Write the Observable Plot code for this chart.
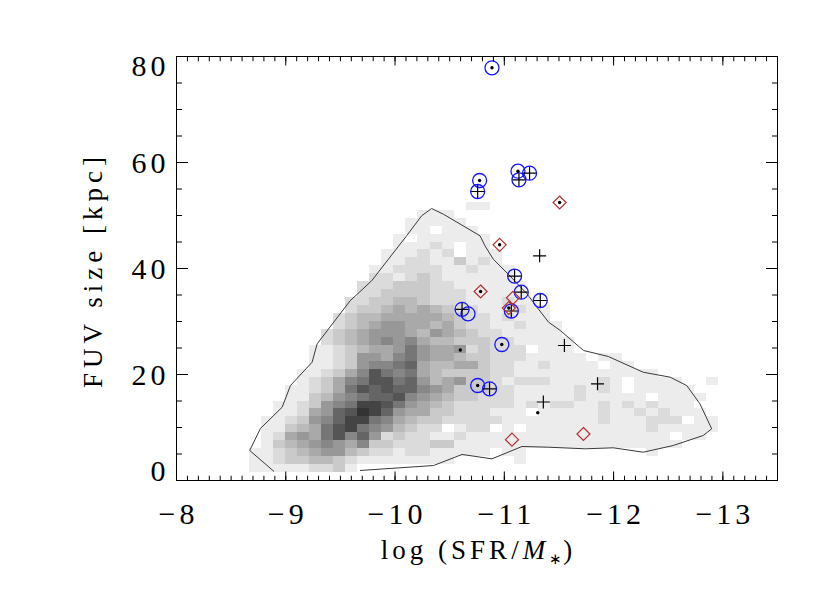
<!DOCTYPE html>
<html>
<head>
<meta charset="utf-8">
<script src="https://cdn.jsdelivr.net/npm/d3@7"></script>
<script src="https://cdn.jsdelivr.net/npm/@observablehq/plot@0.6"></script>
<style>
  html, body { margin: 0; padding: 0; background: #fff; }
</style>
</head>
<body>
<div id="chart"></div>
<script>
// ---------- DATA ----------
// 2-D histogram of the comparison sample: grey level per cell (hex digit, '.' = empty)
// rows listed from top (highest FUV size) to bottom; columns from log sSFR = -8.67 towards -13
const xBinStart = -8.67, xBinWidth = 0.11;
const yBinStart = 1.5, yBinHeight = 1.5;
const densityRows = [
  "..................11...................",
  "..............111......................",
  ".............11111.....................",
  ".............11.111....................",
  "............1.111111...................",
  "............11121.11...................",
  "...........111212.111..................",
  "...........1122113121..................",
  "..........112222112111.................",
  "..........221232111111.................",
  ".........22233322111111................",
  ".........22333322211111................",
  "........2233443222111211...............",
  "........23345454322111211..............",
  ".......234455555432212111..............",
  ".......2345665545322112111.............",
  "......23456665465432211111.............",
  "......234567675443332211111............",
  ".....112345568655623222.111............",
  ".....11236657865543322211111.11........",
  ".....112367789544553221121111.11.......",
  "....112357a87854333322111111111111.....",
  "....123578aa8964563321222111121.1111..1",
  "...112358a9a9976533322111112121.11111..",
  "...113467899a76543322211111211111.1111.",
  "..1123678bba8654322222121221121212111..",
  "..112569acb965533222111.11111211212111.",
  ".1123679bb87543322222111111112111222.11",
  ".113458ab8764322.122.1.1111111111211111",
  ".125658a796232211211111111111111111.11.",
  ".13456765733222331111111111111111111...",
  "11234566432212211111.11..........1.....",
  "11233443211111111.....1................",
  "111112231.............................."
];

// outline contour of the comparison sample
const contourX = [-9.683, -10.353, -10.613, -10.887, -11.162, -11.405, -11.741, -11.997, -12.271, -12.545,
  -12.820, -12.898, -12.790, -12.669, -12.518, -12.271, -11.951, -11.725, -11.512, -11.405,
  -11.299, -11.207, -11.036, -10.899, -10.823, -10.778, -10.442, -10.335, -10.243, -10.106,
  -9.939, -9.786, -9.589, -9.287, -9.241, -9.043, -8.967, -8.768, -8.670, -8.890];
const contourY = [1.89, 2.83, 4.91, 4.09, 6.42, 6.28, 5.98, 6.17, 5.34, 6.60,
  8.49, 9.75, 14.47, 17.92, 19.49, 20.43, 23.40, 24.53, 28.30, 29.87,
  32.70, 35.23, 38.92, 41.75, 44.28, 46.17, 50.25, 51.32, 49.94, 46.17,
  41.75, 37.68, 33.91, 25.79, 22.32, 17.92, 13.83, 9.81, 5.66, 1.75];

// blue open circles
const circleX = [-10.887, -10.774, -10.756, -11.125, -11.134, -11.231, -11.094, -11.155, -11.329, -11.064, -10.613, -10.668, -10.977, -10.756, -10.865];
const circleY = [77.87, 56.60, 54.53, 58.36, 56.74, 57.98, 38.58, 35.53, 33.96, 31.98, 32.30, 31.45, 25.66, 17.92, 17.30];
// black plus signs
const plusX = [-10.756, -11.134, -11.231, -11.323, -11.094, -11.155, -11.329, -11.064, -10.613, -11.550, -10.865, -11.853, -11.357];
const plusY = [54.53, 56.74, 57.98, 42.40, 38.58, 35.53, 33.96, 31.98, 32.30, 25.47, 17.30, 18.25, 14.81];
// small black dots
const dotX = [-10.887, -10.774, -11.125, -11.506, -10.957, -10.783, -11.041, -10.977, -10.597, -10.756, -11.306];
const dotY = [77.87, 56.60, 58.36, 52.45, 44.47, 35.66, 32.55, 25.66, 24.62, 17.92, 12.77];
// red open diamonds
const diamondX = [-11.506, -10.957, -10.783, -11.079, -11.041, -11.070, -11.724];
const diamondY = [52.45, 44.47, 35.66, 34.47, 32.55, 7.70, 8.77];

// axes
const xDomain = [-8, -13.5];
const yDomain = [0, 80];
const xMajor = [-8, -9, -10, -11, -12, -13];
const yMajor = [0, 20, 40, 60, 80];
const xTitle = "log (SFR/";
const yTitle = "FUV size [kpc]";

// ---------- BUILD ----------
const nRows = densityRows.length;
const cells = [];
densityRows.forEach((row, i) => {
  const r = nRows - 1 - i;
  [...row].forEach((ch, c) => {
    if (ch === ".") return;
    cells.push({
      x1: xBinStart - c * xBinWidth,
      x2: xBinStart - (c + 1) * xBinWidth,
      y1: yBinStart + r * yBinHeight,
      y2: yBinStart + (r + 1) * yBinHeight,
      level: parseInt(ch, 16)
    });
  });
});
const zip = (X, Y) => X.map((x, i) => ({x, y: Y[i]}));
const contour = zip(contourX, contourY);

const xMinor = d3.range(-80, -136, -1).map(d => d / 10);
const yMinor = d3.range(0, 81, 5);

const plusSymbol = {
  draw(ctx, size) {
    const r = Math.sqrt(size / Math.PI);
    ctx.moveTo(-r, 0); ctx.lineTo(r, 0);
    ctx.moveTo(0, -r); ctx.lineTo(0, r);
  }
};
const diamondSymbol = {
  draw(ctx, size) {
    const r = Math.sqrt(size / Math.PI);
    ctx.moveTo(0, -r); ctx.lineTo(r, 0); ctx.lineTo(0, r); ctx.lineTo(-r, 0); ctx.closePath();
  }
};

const W = 830, H = 593;
const mL = 176, mR = 53, mT = 56, mB = 113;
const minus = d => "\u2212" + Math.abs(d);

const plot = Plot.plot({
  width: W, height: H,
  marginLeft: mL, marginRight: mR, marginTop: mT, marginBottom: mB,
  style: {fontFamily: "'Liberation Serif', serif", fontSize: "30px", letterSpacing: "4px", color: "#000", background: "#fff"},
  x: {domain: xDomain, label: null},
  y: {domain: yDomain, label: null},
  color: {type: "linear", domain: [1, 12], range: ["#ececec", "#333333"], interpolate: "rgb"},
  marks: [
    Plot.rect(cells, {x1: "x1", x2: "x2", y1: "y1", y2: "y2", fill: "level", shapeRendering: "crispEdges"}),
    Plot.line(contour, {x: "x", y: "y", stroke: "#3a3a3a", strokeWidth: 1}),
    Plot.dot(zip(circleX, circleY), {x: "x", y: "y", r: 7, stroke: "#1515ff", strokeWidth: 1.3, fill: "none"}),
    Plot.dot(zip(plusX, plusY), {x: "x", y: "y", r: 6.5, symbol: plusSymbol, stroke: "#000", strokeWidth: 1.2, fill: "none"}),
    Plot.dot(zip(dotX, dotY), {x: "x", y: "y", r: 1.7, fill: "#000", stroke: "none"}),
    Plot.dot(zip(diamondX, diamondY), {x: "x", y: "y", r: 6.5, symbol: diamondSymbol, stroke: "#b03030", strokeWidth: 1.2, fill: "none"}),
    Plot.frame({stroke: "#000", strokeWidth: 1}),
    // inward tick marks on all four sides
    Plot.axisX(xMinor, {anchor: "bottom", tickSize: -4.25, fill: "none"}),
    Plot.axisX(xMajor, {anchor: "bottom", tickSize: -8.5, fill: "none"}),
    Plot.axisX(xMinor, {anchor: "top", tickSize: -4.25, fill: "none"}),
    Plot.axisX(xMajor, {anchor: "top", tickSize: -8.5, fill: "none"}),
    Plot.axisY(yMinor, {anchor: "left", tickSize: -6, fill: "none"}),
    Plot.axisY(yMajor, {anchor: "left", tickSize: -12, fill: "none"}),
    Plot.axisY(yMinor, {anchor: "right", tickSize: -6, fill: "none"}),
    Plot.axisY(yMajor, {anchor: "right", tickSize: -12, fill: "none"}),
    // tick labels
    Plot.axisX(xMajor, {anchor: "bottom", tickSize: 0, tickPadding: 21.7, dx: 2, tickFormat: minus, label: null}),
    Plot.axisY([20, 40, 60], {anchor: "left", tickSize: 0, tickPadding: 7, dy: 1, label: null}),
    Plot.axisY([80], {anchor: "left", tickSize: 0, tickPadding: 7, dy: 10, label: null}),
    Plot.axisY([0], {anchor: "left", tickSize: 0, tickPadding: 7, dy: -9, label: null})
  ]
});

// axis titles (real text, with italic M and subscript asterisk)
const svg = d3.select(plot);
const cx = mL + (W - mL - mR) / 2;
const cy = mT + (H - mT - mB) / 2;
const xt = svg.append("text")
  .attr("x", cx + 2).attr("y", H - mB + 79)
  .attr("text-anchor", "middle")
  .style("font-family", "'Liberation Serif', serif")
  .style("font-size", "27px").style("letter-spacing", "4px").attr("fill", "#000");
xt.append("tspan").text(xTitle);
xt.append("tspan").style("font-style", "italic").text("M");
xt.append("tspan").attr("dy", 5).style("font-size", "15px").style("letter-spacing", "1px").text("\u2217");
xt.append("tspan").attr("dy", -5).text(")");

svg.append("text")
  .attr("transform", `translate(${mL - 74},${cy + 2}) rotate(-90)`)
  .attr("text-anchor", "middle")
  .style("font-family", "'Liberation Serif', serif")
  .style("font-size", "27px").style("letter-spacing", "5px").attr("fill", "#000")
  .text(yTitle);

document.getElementById("chart").appendChild(plot);
</script>
</body>
</html>
